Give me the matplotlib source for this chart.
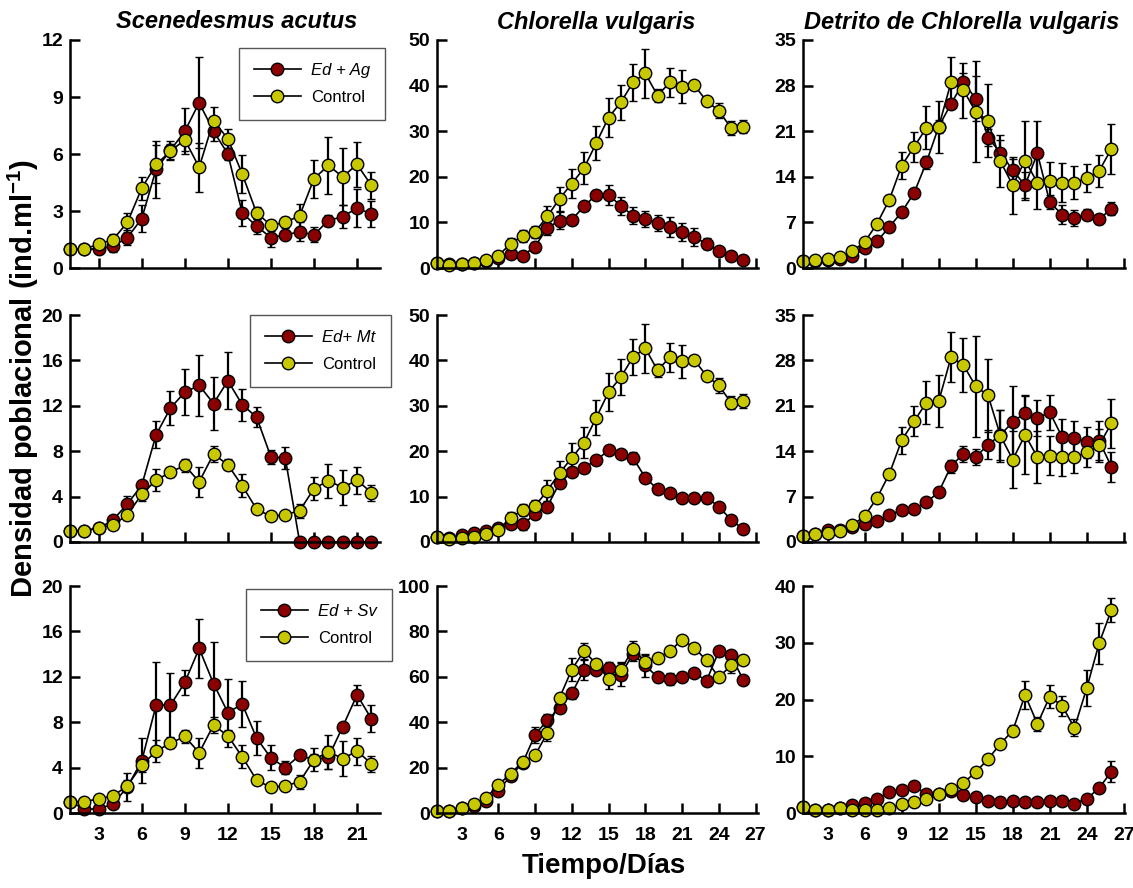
import matplotlib
matplotlib.use("Agg")
import matplotlib.pyplot as plt
from matplotlib.lines import Line2D

plt.rcParams["font.family"] = ["Liberation Sans", "DejaVu Sans"]
plt.rcParams["mathtext.fontset"] = "custom"
plt.rcParams["mathtext.rm"] = "Liberation Sans:bold"
plt.rcParams["mathtext.bf"] = "Liberation Sans:bold"

# days
days_sa = [1, 2, 3, 4, 5, 6, 7, 8, 9, 10, 11, 12, 13, 14, 15, 16, 17, 18, 19, 20, 21, 22]
days_cv = [1, 2, 3, 4, 5, 6, 7, 8, 9, 10, 11, 12, 13, 14, 15, 16, 17, 18, 19, 20, 21, 22, 23, 24, 25, 26]

# Scenedesmus acutus
sa_ctrl = [1.0, 1.0, 1.25, 1.5, 2.4, 4.2, 5.45, 6.15, 6.75, 5.3, 7.75, 6.8, 4.95, 2.9, 2.25, 2.4, 2.75, 4.7, 5.4, 4.8, 5.45, 4.35]
sa_ctrl_err = [0, 0, 0.1, 0.3, 0.5, 0.6, 1.0, 0.4, 0.6, 1.3, 0.7, 0.5, 1.0, 0.3, 0.3, 0.3, 0.6, 1.0, 1.5, 1.5, 1.2, 0.7]
sa_ag = [1.0, 1.0, 1.0, 1.15, 1.6, 2.6, 5.2, 6.2, 7.2, 8.7, 7.2, 6.0, 2.9, 2.2, 1.6, 1.75, 1.9, 1.75, 2.5, 2.7, 3.15, 2.85]
sa_ag_err = [0, 0, 0.1, 0.3, 0.4, 0.7, 1.5, 0.5, 1.2, 2.4, 0.5, 0.3, 0.7, 0.4, 0.5, 0.2, 0.5, 0.4, 0.3, 0.6, 1.0, 0.7]
sa_mt = [1.0, 1.0, 1.2, 1.95, 3.35, 5.0, 9.45, 11.8, 13.2, 13.8, 12.2, 14.2, 12.1, 11.0, 7.5, 7.4, 0, 0, 0, 0, 0, 0]
sa_mt_err = [0, 0, 0, 0.2, 0.7, 0.3, 1.2, 1.5, 2.0, 2.7, 2.3, 2.5, 1.4, 0.9, 0.6, 1.0, 0, 0, 0, 0, 0, 0]
sa_sv = [1.0, 0.35, 0.35, 0.8, 2.3, 4.6, 9.5, 9.5, 11.5, 14.5, 11.4, 8.85, 9.6, 6.6, 4.85, 4.0, 5.07, 4.7, 4.9, 7.6, 10.4, 8.3]
sa_sv_err = [0, 0.2, 0.2, 0.3, 1.2, 2.0, 3.8, 2.8, 1.1, 2.6, 3.7, 3.0, 2.0, 1.5, 1.1, 0.6, 0.3, 0.5, 1.0, 0.3, 0.9, 1.2]

# Chlorella vulgaris
cv_ctrl = [1.1, 0.7, 0.9, 1.1, 1.8, 2.7, 5.3, 7.1, 7.9, 11.3, 15.2, 18.5, 21.9, 27.4, 33.0, 36.3, 40.7, 42.7, 37.8, 40.7, 39.8, 40.1, 36.6, 34.5, 30.7, 31.0]
cv_ctrl_err = [0, 0, 0, 0, 0.3, 0.3, 1.2, 1.3, 1.3, 2.3, 2.6, 3.2, 3.5, 3.8, 4.2, 3.9, 4.0, 5.4, 1.5, 3.2, 3.6, 0.5, 0.5, 1.7, 1.5, 1.5]
cv_ag = [1.1, 0.8, 0.8, 1.0, 1.5, 2.2, 3.1, 2.7, 4.7, 8.8, 10.4, 10.6, 13.5, 16.1, 16.1, 13.6, 11.5, 10.8, 9.9, 9.0, 7.9, 6.8, 5.3, 3.8, 2.7, 1.8]
cv_ag_err = [0, 0, 0, 0, 0, 0.3, 0.5, 0.5, 1.0, 1.5, 1.8, 0.5, 0.5, 1.0, 2.2, 2.0, 1.8, 1.8, 1.8, 2.1, 2.0, 2.0, 1.2, 0.3, 0.3, 0.3]
cv_mt = [1.0, 0.8, 1.5, 1.9, 2.5, 3.0, 3.9, 3.9, 6.1, 7.8, 13.0, 15.4, 16.4, 18.0, 20.2, 19.3, 18.5, 14.2, 11.6, 10.8, 9.6, 9.8, 9.8, 7.8, 4.9, 2.8]
cv_mt_err = [0, 0, 0, 0, 0, 0, 0.8, 1.2, 0.8, 1.0, 1.0, 0.5, 0, 0, 0, 0, 1.3, 0, 0, 0, 0, 0, 1.3, 0.8, 0, 0]
cv_ctrl2 = [1.0, 0.8, 2.2, 4.1, 6.6, 12.3, 17.3, 22.6, 25.4, 35.2, 50.7, 63.2, 71.3, 65.7, 59.1, 62.8, 72.4, 66.5, 68.4, 71.2, 76.4, 72.8, 67.2, 59.8, 65.0, 67.2]
cv_ctrl2_err = [0, 0, 0, 0, 0, 0, 1, 2, 1, 3.5, 1.5, 5, 3.5, 0, 4.5, 3.5, 3.5, 3, 0, 0, 0, 0, 0, 0, 3.5, 0]
cv_sv = [1.0, 0.8, 2.0, 3.0, 5.2, 9.9, 16.2, 22.2, 34.4, 40.9, 46.2, 52.7, 63.1, 62.8, 64.0, 61.0, 70.0, 65.0, 59.8, 59.1, 60.1, 61.7, 58.3, 71.2, 69.4, 58.6]
cv_sv_err = [0, 0, 0, 0, 0, 0, 0, 0, 3.5, 2.5, 0, 2.5, 4.5, 0, 2.5, 5, 3, 5, 2, 2.5, 2, 0, 2, 2, 2, 0]

# Detrito de Chlorella vulgaris
det_ctrl = [1.0, 1.2, 1.4, 1.7, 2.6, 4.0, 6.8, 10.5, 15.7, 18.6, 21.5, 21.7, 28.5, 27.3, 24.0, 22.6, 16.4, 12.7, 16.5, 13.1, 13.3, 13.1, 13.1, 13.8, 14.9, 18.3]
det_ctrl_err = [0, 0, 0, 0, 0, 0, 0.3, 0.7, 2.1, 2.3, 3.3, 4.0, 3.9, 4.2, 7.8, 5.6, 4.0, 4.4, 6.0, 4.0, 3.0, 3.0, 2.5, 2.2, 2.5, 3.8]
det_ag = [1.0, 1.1, 1.3, 1.4, 1.8, 3.0, 4.1, 6.3, 8.6, 11.5, 16.2, 21.7, 25.2, 28.5, 26.0, 20.0, 17.7, 15.0, 12.7, 17.6, 10.1, 8.2, 7.7, 8.2, 7.5, 9.1]
det_ag_err = [0, 0, 0, 0, 0, 0, 0, 0, 0, 0, 1.0, 1.0, 0.7, 1.5, 3.5, 1.3, 1.9, 1.7, 2.0, 5.0, 1.1, 1.5, 1.2, 0.8, 0.7, 1.0]
det_mt = [1.0, 1.2, 1.9, 1.8, 2.3, 2.8, 3.3, 4.2, 4.9, 5.1, 6.1, 7.7, 11.7, 13.6, 13.1, 15.0, 16.5, 18.5, 19.9, 19.1, 20.0, 16.2, 16.0, 15.4, 15.6, 11.6]
det_mt_err = [0, 0, 0, 0, 0, 0, 0, 0, 0, 0, 0.5, 0.5, 1.0, 1.2, 1.3, 2.2, 3.8, 5.5, 2.8, 2.8, 2.7, 2.8, 2.7, 2.4, 3.0, 2.3]
det_ctrl2 = [1.0, 0.6, 0.5, 0.8, 0.6, 0.6, 0.6, 0.9, 1.5, 1.9, 2.5, 3.3, 4.3, 5.3, 7.2, 9.5, 12.2, 14.5, 20.8, 15.7, 20.5, 18.9, 15.0, 22.0, 29.9, 35.8]
det_ctrl2_err = [0, 0, 0, 0, 0, 0, 0, 0, 0, 0, 0, 0, 0, 0, 0, 0, 0.7, 1.0, 2.5, 1.3, 2.0, 1.8, 1.5, 3.2, 3.6, 2.1]
det_sv = [1.0, 0.6, 0.5, 0.8, 1.35, 1.75, 2.5, 3.7, 4.1, 4.7, 3.4, 3.4, 3.8, 3.2, 2.75, 2.2, 1.95, 2.2, 1.95, 1.9, 2.2, 2.2, 1.65, 2.5, 4.4, 7.3]
det_sv_err = [0, 0, 0, 0, 0, 0, 0, 0, 0, 0, 0, 0, 0, 0, 0, 0, 0, 0, 0, 0, 0, 0, 0, 0, 0.6, 1.8]

titles = ["Scenedesmus acutus", "Chlorella vulgaris", "Detrito de Chlorella vulgaris"]
legend_labels = ["Ed + Ag", "Ed+ Mt", "Ed + Sv"]

RED = "#8B0000"
YEL = "#C8C800"

W, H = 1133, 888
fig = plt.figure(figsize=(W / 100, H / 100), dpi=100)

# axes boxes in pixels: (left, right) per column, (top, bottom) per row
cols = [(70, 380), (437, 758), (803, 1125)]
rows = [(40, 268), (315, 542), (586, 813)]
xmax = [22.6, 27.2, 27.1]
ylims = [[12, 50, 35], [20, 50, 35], [20, 100, 40]]
ysteps = [[3, 10, 7], [4, 10, 7], [4, 20, 10]]
# legend top-left corners (px)
leg_pos = [(239, 48), (250, 315), (246, 589)]

panels = [
    [(days_sa, sa_ag, sa_ag_err, sa_ctrl, sa_ctrl_err),
     (days_cv, cv_ag, cv_ag_err, cv_ctrl, cv_ctrl_err),
     (days_cv, det_ag, det_ag_err, det_ctrl, det_ctrl_err)],
    [(days_sa, sa_mt, sa_mt_err, sa_ctrl, sa_ctrl_err),
     (days_cv, cv_mt, cv_mt_err, cv_ctrl, cv_ctrl_err),
     (days_cv, det_mt, det_mt_err, det_ctrl, det_ctrl_err)],
    [(days_sa, sa_sv, sa_sv_err, sa_ctrl, sa_ctrl_err),
     (days_cv, cv_sv, cv_sv_err, cv_ctrl2, cv_ctrl2_err),
     (days_cv, det_sv, det_sv_err, det_ctrl2, det_ctrl2_err)],
]


def draw(ax, x, y, e, face):
    ax.errorbar(x, y, yerr=e, fmt="-o", color="black", lw=1.2, ms=9,
                mfc=face, mec="black", mew=1.0, ecolor="black",
                elinewidth=1.6, capsize=3, capthick=1.6, clip_on=False)


for r in range(3):
    for c in range(3):
        l, rr = cols[c]
        t, b = rows[r]
        ax = fig.add_axes([l / W, 1 - b / H, (rr - l) / W, (b - t) / H])
        x, red, red_e, ctrl, ctrl_e = panels[r][c]
        draw(ax, x, red, red_e, RED)
        draw(ax, x, ctrl, ctrl_e, YEL)

        ax.set_xlim(1, xmax[c])
        ax.set_ylim(0, ylims[r][c])
        ax.set_xticks(list(range(3, int(xmax[c]) + 1, 3)))
        ax.set_yticks(list(range(0, ylims[r][c] + 1, ysteps[r][c])))
        for s in ["top", "right"]:
            ax.spines[s].set_visible(False)
        for s in ["left", "bottom"]:
            ax.spines[s].set_linewidth(1.8)
        ax.tick_params(direction="in", length=7, width=1.8, labelsize=14)
        ax.tick_params(axis="y", pad=5)
        ax.tick_params(axis="x", pad=10)
        if r < 2:
            ax.set_xticklabels([])
        for lab in ax.get_xticklabels() + ax.get_yticklabels():
            lab.set_fontweight("bold")

        if c == 0:
            h = [Line2D([], [], color="black", lw=1.2, marker="o", ms=9,
                        mfc=RED, mec="black"),
                 Line2D([], [], color="black", lw=1.2, marker="o", ms=9,
                        mfc=YEL, mec="black")]
            lx, ly = leg_pos[r]
            leg = fig.legend(h, [legend_labels[r], "Control"], loc="upper left",
                             bbox_to_anchor=(lx / W, 1 - ly / H),
                             fontsize=12, frameon=True, fancybox=False,
                             edgecolor="#555555", framealpha=1,
                             handlelength=2.8, handletextpad=0.6,
                             labelspacing=0.7, borderpad=0.9, borderaxespad=0)
            leg.get_frame().set_linewidth(1.0)
            leg.get_texts()[0].set_style("italic")

title_x = [237, 596, 962]
for c in range(3):
    fig.text(title_x[c] / W, 1 - 22 / H, titles[c], fontsize=17,
             fontweight="bold", fontstyle="italic", ha="center", va="center")

fig.text(23 / W, 1 - 378 / H, "Densidad poblacional (ind.ml$^{\\mathbf{-1}}$)",
         rotation=90, fontsize=21, fontweight="bold", ha="center", va="center")
fig.text(604 / W, 1 - 866 / H, "Tiempo/Días", fontsize=20, fontweight="bold",
         ha="center", va="center")

fig.savefig("out.png", dpi=100)
